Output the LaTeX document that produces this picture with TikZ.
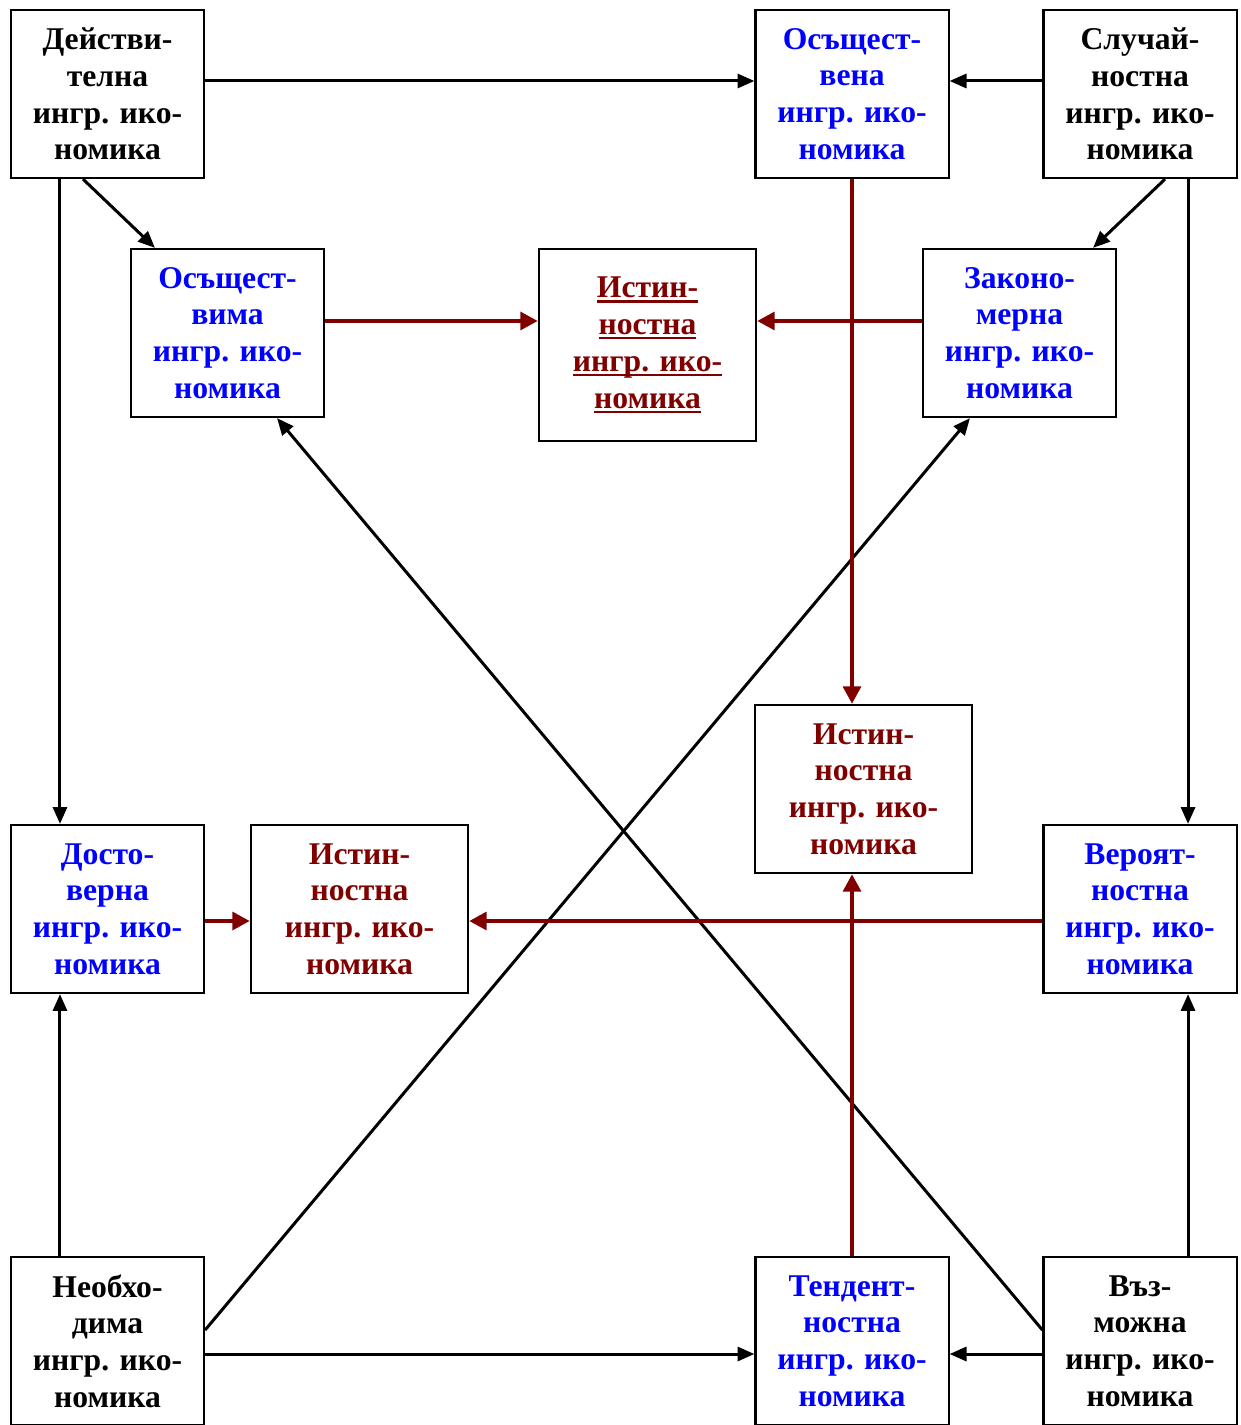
\documentclass[tikz,border=0pt]{standalone}
\usepackage{fontspec}
\setmainfont{Liberation Serif}
\usetikzlibrary{arrows.meta}
\definecolor{drd}{RGB}{128,0,0}
\tikzset{bx/.append style={draw, line width=0.6pt, minimum width=1.93cm, minimum height=1.68cm, inner sep=0pt, align=center, font=\bfseries\fontsize{9}{10.45}\selectfont}}
\tikzset{wd/.append style={minimum width=2.17cm}}
\tikzset{bl/.append style={text=blue}}
\tikzset{rd/.append style={text=drd}}
\tikzset{ka/.append style={line width=0.85pt, -{Triangle[length=4.8pt,width=4pt]}}}
\tikzset{ra/.append style={line width=1.4pt, draw=drd, -{Triangle[length=5pt,width=5pt]}}}
\newcommand{\ul}[1]{\setbox0\hbox{#1}\rlap{\rule[-1.3pt]{\wd0}{0.6pt}}\box0}

\begin{document}
\begin{tikzpicture}[x=0.01cm,y=-0.01cm]
                \useasboundingbox (0,0) rectangle (1240,1425);
                % boxes
                \node[bx] (dei) at (107.5,94) {Действи-\\телна\\ингр. ико-\\номика};
                \node[bx,bl] (osv) at (852,94) {Осъщест-\\вена\\ингр. ико-\\номика};
                \node[bx] (slu) at (1140,94) {Случай-\\ностна\\ингр. ико-\\номика};
                \node[bx,bl] (osm) at (227.5,333) {Осъщест-\\вима\\ингр. ико-\\номика};
                \node[bx,wd,rd,minimum height=1.92cm] (ist) at (647.5,345) {\ul{Истин-}\\\ul{ностна}\\\ul{ингр. ико-}\\\ul{номика}};
                \node[bx,bl] (zak) at (1019.5,333) {Законо-\\мерна\\ингр. ико-\\номика};
                \node[bx,wd,rd] (isr) at (863.5,789) {Истин-\\ностна\\ингр. ико-\\номика};
                \node[bx,bl] (dos) at (107.5,909) {Досто-\\верна\\ингр. ико-\\номика};
                \node[bx,wd,rd] (isl) at (359.5,909) {Истин-\\ностна\\ингр. ико-\\номика};
                \node[bx,bl] (ver) at (1140,909) {Вероят-\\ностна\\ингр. ико-\\номика};
                \node[bx] (neo) at (107.5,1341) {Необхо-\\дима\\ингр. ико-\\номика};
                \node[bx,bl] (ten) at (852,1341) {Тендент-\\ностна\\ингр. ико-\\номика};
                \node[bx] (vuz) at (1140,1341) {Въз-\\можна\\ингр. ико-\\номика};
                % black arrows
                \draw[ka] ([yshift=0.13cm]dei.east) -- ([yshift=0.13cm]osv.west);
                \draw[ka] ([yshift=0.13cm]slu.west) -- ([yshift=0.13cm]osv.east);
                \draw[ka] ([xshift=-0.245cm]dei.south) -- ([xshift=-0.725cm]osm.north);
                \draw[ka] ([xshift=0.25cm]slu.south) -- ([xshift=0.735cm]zak.north);
                \draw[ka] ([xshift=-0.475cm]dei.south) -- ([xshift=-0.475cm]dos.north);
                \draw[ka] ([xshift=0.48cm]slu.south) -- ([xshift=0.48cm]ver.north);
                \draw[ka] ([xshift=-0.475cm]neo.north) -- ([xshift=-0.475cm]dos.south);
                \draw[ka] ([xshift=0.48cm]vuz.north) -- ([xshift=0.48cm]ver.south);
                \draw[ka] ([yshift=-0.13cm]neo.east) -- ([yshift=-0.13cm]ten.west);
                \draw[ka] ([yshift=-0.13cm]vuz.west) -- ([yshift=-0.13cm]ten.east);
                \draw[ka] ([yshift=0.11cm]neo.east) -- ([xshift=-0.495cm]zak.south);
                \draw[ka] ([yshift=0.11cm]vuz.west) -- ([xshift=0.495cm]osm.south);
                % red arrows
                \draw[ra] ([yshift=0.12cm]osm.east) -- ([yshift=0.12cm]osm.east -| ist.west);
                \draw[ra] ([yshift=0.12cm]zak.west) -- ([yshift=0.12cm]zak.west -| ist.east);
                \draw[ra] (osv.south) -- (osv.south |- isr.north);
                \draw[ra] (ten.north) -- (ten.north |- isr.south);
                \draw[ra] ([yshift=-0.12cm]ver.west) -- ([yshift=-0.12cm]isl.east);
                \draw[ra] ([yshift=-0.12cm]dos.east) -- ([yshift=-0.12cm]isl.west);
\end{tikzpicture}
\end{document}
